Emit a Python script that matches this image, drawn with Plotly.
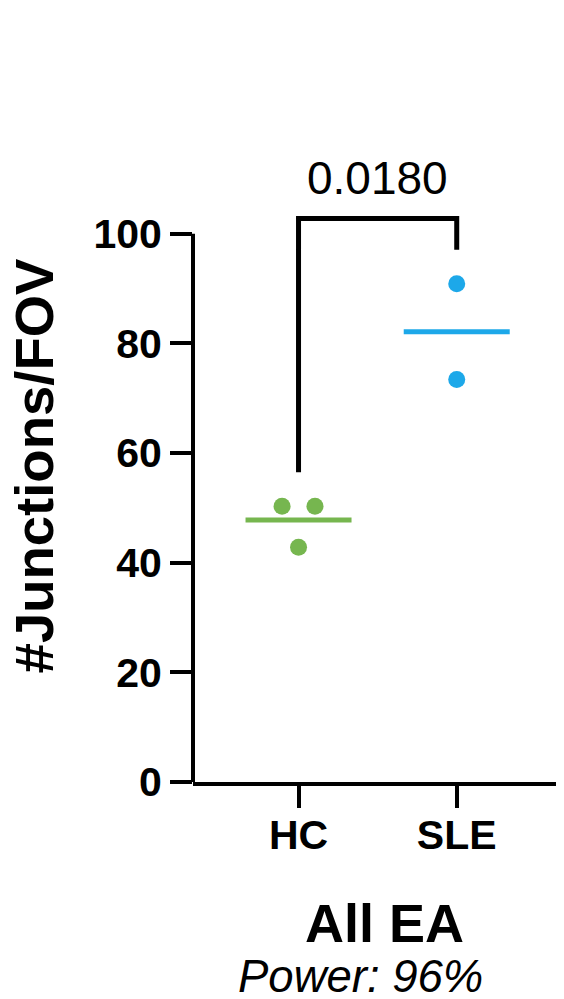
import plotly.graph_objects as go
import numpy as np

# ---- data ----
categories = ["HC", "SLE"]
hc_values = [50.3, 50.3, 42.8]
sle_values = [90.9, 73.4]
group_values = [hc_values, sle_values]
group_colors = ["#76B64F", "#1DA8E9"]
y_tick_values = [0, 20, 40, 60, 80, 100]
p_value_label = "0.0180"
y_title = "#Junctions/FOV"
x_title = "All EA"
subtitle = "Power: 96%"

FONT = "Liberation Sans, Arial, sans-serif"


def swarm_offsets(vals, thresh=3.0, step=0.208):
    """Spread points with nearly equal values side by side."""
    vals = np.asarray(vals, dtype=float)
    offs = np.zeros(len(vals))
    used = np.zeros(len(vals), bool)
    for i in range(len(vals)):
        if used[i]:
            continue
        grp = [j for j in range(len(vals)) if not used[j] and abs(vals[j] - vals[i]) < thresh]
        n = len(grp)
        for k, j in enumerate(grp):
            offs[j] = (k - (n - 1) / 2) * step
            used[j] = True
    return offs


fig = go.Figure()

for gi, (name, vals, col) in enumerate(zip(categories, group_values, group_colors)):
    xs = gi + swarm_offsets(vals)
    fig.add_trace(go.Scatter(
        x=xs, y=vals, mode="markers",
        marker=dict(size=17, color=col, line=dict(width=0)),
        showlegend=False, cliponaxis=False, hoverinfo="skip"))
    m = float(np.mean(vals))
    fig.add_trace(go.Scatter(
        x=[gi - 0.335, gi + 0.335], y=[m, m], mode="lines",
        line=dict(color=col, width=5), showlegend=False, hoverinfo="skip"))

# significance bracket (derived from the data)
gap = 6.2
left_bottom = max(hc_values) + gap
right_bottom = max(sle_values) + gap
top = max(max(hc_values), max(sle_values)) + 11.9
fig.add_shape(type="path",
              path=f"M 0,{left_bottom} L 0,{top} L 1,{top} L 1,{right_bottom}",
              xref="x", yref="y", line=dict(color="black", width=5))

# y-axis line from 0 to 100
fig.add_shape(type="line", xref="paper", yref="y", x0=0, x1=0,
              y0=0, y1=max(y_tick_values), line=dict(color="black", width=4))

fig.add_annotation(x=0.5, y=top + 7.4, xref="x", yref="y", text=p_value_label,
                   showarrow=False, yanchor="middle",
                   font=dict(family=FONT, size=46, color="black"))

fig.add_annotation(x=-0.4285, y=0.514, xref="paper", yref="paper", text=y_title,
                   textangle=-90, showarrow=False, xanchor="center", yanchor="middle",
                   font=dict(family=FONT, size=54.5, color="black", weight="bold"))

fig.add_annotation(x=0.5162, y=-0.230, xref="paper", yref="paper", text=x_title,
                   showarrow=False, xanchor="center", yanchor="middle",
                   font=dict(family=FONT, size=54, color="black", weight="bold"))

fig.add_annotation(x=0.4527, y=-0.316, xref="paper", yref="paper", text=subtitle,
                   showarrow=False, xanchor="center", yanchor="middle",
                   font=dict(family=FONT, size=45.5, color="black", style="italic"))

fig.update_layout(
    width=556, height=991,
    margin=dict(l=185, r=0, t=159.5, b=217.3),
    paper_bgcolor="white", plot_bgcolor="white",
    xaxis=dict(range=[-0.667, 1.678], tickvals=[0, 1], ticktext=categories,
               showline=True, linewidth=4, linecolor="black",
               ticks="outside", ticklen=22, tickwidth=4, tickcolor="black",
               showgrid=False, zeroline=False, ticklabelstandoff=-8,
               tickfont=dict(family=FONT, size=41, color="black", weight="bold")),
    yaxis=dict(range=[0, 112], tickvals=y_tick_values,
               showline=False, ticks="outside", ticklen=22, tickwidth=4,
               tickcolor="black", showgrid=False, zeroline=False,
               tickfont=dict(family=FONT, size=41, color="black", weight="bold")),
)

fig.write_html("out.html")
